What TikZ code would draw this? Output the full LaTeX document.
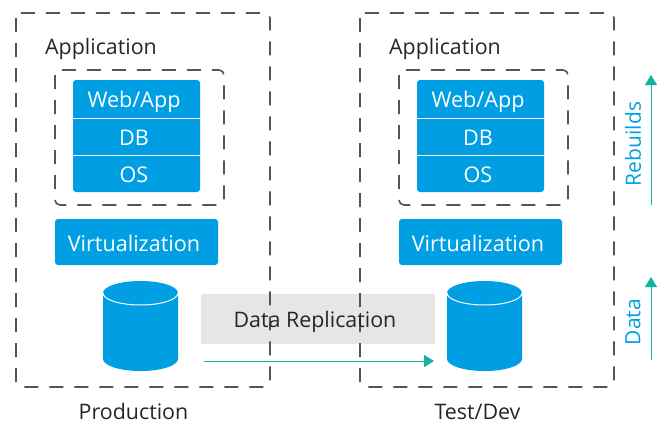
\documentclass[tikz,border=0pt]{standalone}
\usepackage{fontspec}
\setmainfont{Open Sans}
\usetikzlibrary{arrows.meta}
\definecolor{boxblue}{HTML}{009FE3}
\definecolor{arrowteal}{HTML}{12B3A4}
\definecolor{dashgray}{HTML}{555555}
\definecolor{bandgray}{HTML}{E6E6E6}
\tikzset{
    dashbox/.style={draw=dashgray, line width=1.6pt, dash pattern=on 14pt off 11pt, rounded corners=5pt},
    bluetext/.style={text=white, font=\fontsize{21.6}{25}\selectfont, inner sep=0pt},
    bluebox/.style={fill=boxblue, rounded corners=3pt, inner sep=0pt},
    label/.style={font=\fontsize{21.4}{25}\selectfont, text=black!85, inner sep=0pt},
    sidelabel/.style={font=\fontsize{21}{25}\selectfont, text=boxblue, rotate=90, inner sep=0pt},
    flow/.style={draw=arrowteal, line width=1pt, -{Triangle[length=10pt, width=12pt]}},
}
\begin{document}
\begin{tikzpicture}[x=1pt, y=-1pt]
    \useasboundingbox (0, 0) rectangle (659, 423);
    \node[fill=bandgray, minimum width=234pt, minimum height=50pt, inner sep=0pt] (band) at (318, 319) {};
    \foreach \x/\name/\title in {0/prod/Production, 344/test/Test\slash Dev} {
        \draw[dashbox] (16+\x, 13) rectangle (270+\x, 387);
        \draw[dashbox] (55+\x, 70) rectangle (224+\x, 205);
        \node[label] (\name-app) at (101+\x, 49) {Application};
        \fill[boxblue, rounded corners=3pt] (73+\x, 80) rectangle (200+\x, 192);
        \draw[white, line width=1pt] (73+\x, 118) -- (200+\x, 118);
        \draw[white, line width=1pt] (73+\x, 155) -- (200+\x, 155);
        \node[bluetext] (\name-web) at (134+\x, 102) {Web/App};
        \node[bluetext] (\name-db) at (134+\x, 138) {DB};
        \node[bluetext] (\name-os) at (134+\x, 175) {OS};
        \node[bluebox, minimum width=163pt, minimum height=46pt] (\name-virt) at (136.5+\x, 242) {};
        \node[bluetext] (\name-virtlabel) at (134+\x, 243) {Virtualization};
        % cylinder
        \fill[boxblue] (103+\x, 293) -- (103+\x, 359) arc[start angle=180, end angle=360, x radius=37.5pt, y radius=12pt]
            -- (178+\x, 293) arc[start angle=0, end angle=180, x radius=37.5pt, y radius=12pt] -- cycle;
        \draw[white, line width=1pt] (103+\x, 293) arc[start angle=180, end angle=360, x radius=37.5pt, y radius=12pt];
        \node[label] (\name-title) at (133.5+\x, 411.5) {\title};
    }
    \node[label] (replication) at (315, 322) {Data Replication};
    \coordinate (repstart) at (204, 361);
    \coordinate (repend) at (434, 361);
    \draw[flow] (repstart) -- (repend);
    \coordinate (rebstart) at (651, 205);
    \coordinate (rebend) at (651, 75);
    \draw[flow] (rebstart) -- (rebend);
    \node[sidelabel] (rebuilds) at (633, 144) {Rebuilds};
    \coordinate (datastart) at (651, 360);
    \coordinate (dataend) at (651, 277);
    \draw[flow] (datastart) -- (dataend);
    \node[sidelabel] (data) at (633, 322) {Data};
\end{tikzpicture}
\end{document}
